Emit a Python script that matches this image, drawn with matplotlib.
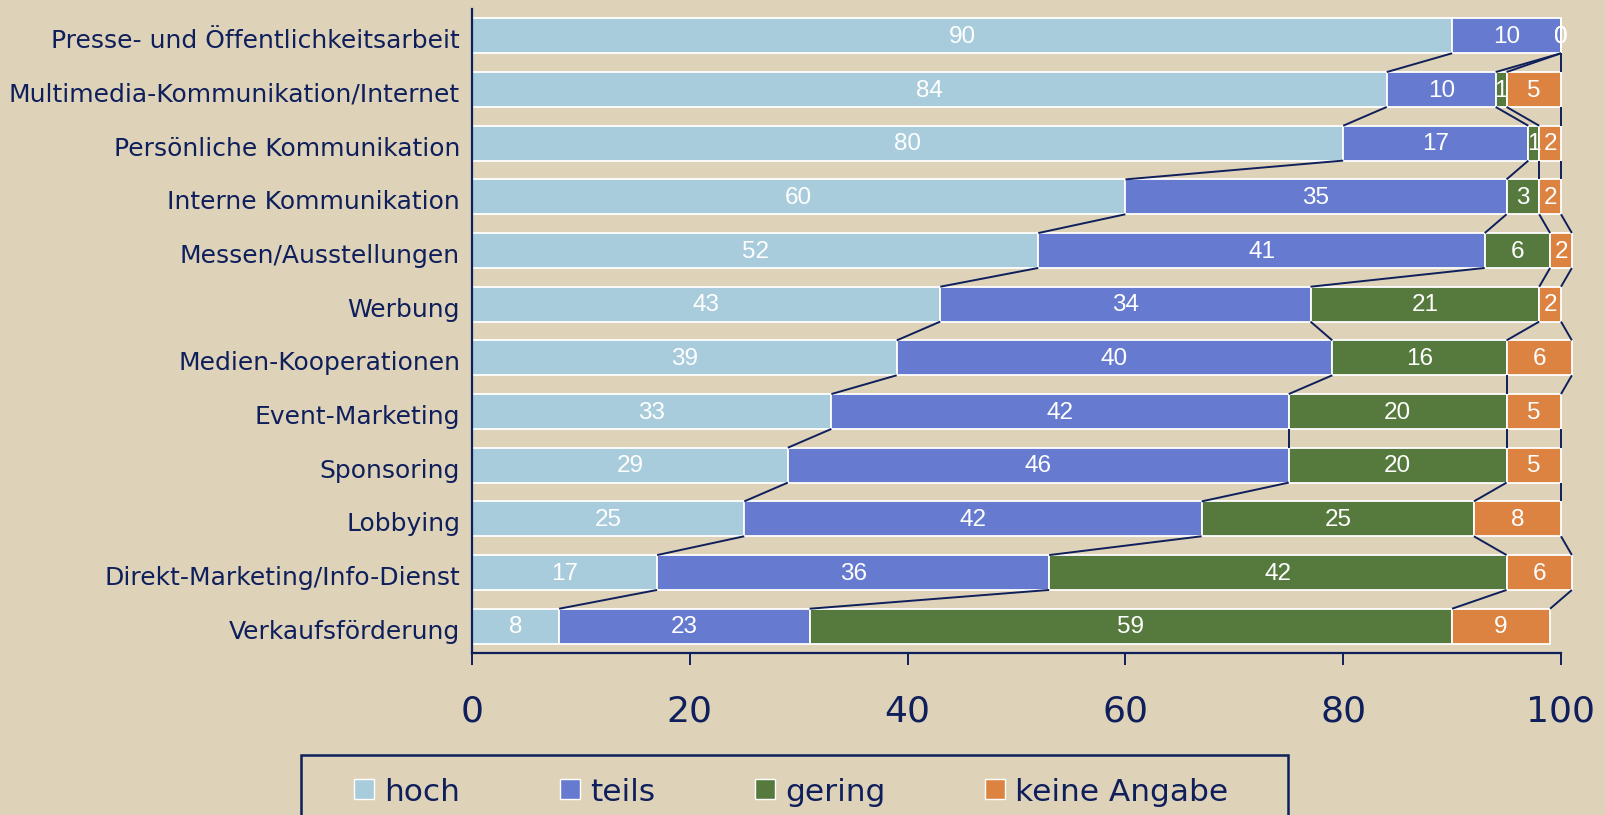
import matplotlib
matplotlib.use("Agg")
import matplotlib.pyplot as plt
import matplotlib.transforms as mtransforms
from matplotlib.patches import Rectangle

# ---------------- data ----------------
categories = [
    "Presse- und Öffentlichkeitsarbeit",
    "Multimedia-Kommunikation/Internet",
    "Persönliche Kommunikation",
    "Interne Kommunikation",
    "Messen/Ausstellungen",
    "Werbung",
    "Medien-Kooperationen",
    "Event-Marketing",
    "Sponsoring",
    "Lobbying",
    "Direkt-Marketing/Info-Dienst",
    "Verkaufsförderung",
]
hoch = [90, 84, 80, 60, 52, 43, 39, 33, 29, 25, 17, 8]
teils = [10, 10, 17, 35, 41, 34, 40, 42, 46, 42, 36, 23]
gering = [0, 1, 1, 3, 6, 21, 16, 20, 20, 25, 42, 59]
keine = [0, 5, 2, 2, 2, 2, 6, 5, 5, 8, 6, 9]
series_names = ["hoch", "teils", "gering", "keine Angabe"]
xticks = [0, 20, 40, 60, 80, 100]

# ---------------- style ----------------
BG = "#DED3B8"
NAVY = "#0F1F5C"
COLORS = ["#A8CCDB", "#667BD0", "#567A3D", "#DD8342"]
W, H = 1606, 815

fig = plt.figure(figsize=(W / 100, H / 100), dpi=100, facecolor=BG)
ax = fig.add_axes([472 / W, (H - 653) / H, (1561 - 472) / W, (653 - 9) / H])
ax.set_facecolor(BG)

series = [hoch, teils, gering, keine]
n = len(categories)
ypos = list(range(n))
bar_h = 0.65

left = [0] * n
cums = []
for vals, col in zip(series, COLORS):
    ax.barh(ypos, vals, left=left, height=bar_h, color=col,
            edgecolor="white", linewidth=1.3, clip_on=False, zorder=2)
    for i, v in enumerate(vals):
        ax.text(left[i] + v / 2, ypos[i] + 0.02, str(v), color="white",
                ha="center", va="center", fontsize=17.5,
                family="Liberation Sans", zorder=4, clip_on=False)
    left = [l + v for l, v in zip(left, vals)]
    cums.append(list(left))

# series lines between consecutive bars
for cum in cums:
    for i in range(n - 1):
        ax.plot([cum[i], cum[i + 1]],
                [ypos[i] + bar_h / 2, ypos[i + 1] - bar_h / 2],
                color=NAVY, lw=1.4, clip_on=False, zorder=3,
                solid_capstyle="butt")

ax.set_xlim(0, 100)
ax.set_ylim(n - 0.5, -0.5)
ax.set_xticks(xticks)
ax.set_xticklabels([str(t) for t in xticks])
ax.set_yticks(ypos)
ax.set_yticklabels(categories)

ax.tick_params(axis="x", direction="out", length=8.6, width=1.4,
               colors=NAVY, labelsize=26, pad=21)
ax.tick_params(axis="y", length=0, pad=8.6, colors=NAVY, labelsize=18)
for lab in ax.get_xticklabels() + ax.get_yticklabels():
    lab.set_family("DejaVu Sans")

shift = mtransforms.ScaledTranslation(0, -3 / 100, fig.dpi_scale_trans)
for lab in ax.get_yticklabels():
    lab.set_transform(lab.get_transform() + shift)

for s in ["top", "right"]:
    ax.spines[s].set_visible(False)
for s in ["left", "bottom"]:
    ax.spines[s].set_color(NAVY)
    ax.spines[s].set_linewidth(1.6)

# ---------------- legend (manual, extends below the figure) ----------------
def fx(x):
    return x / W


def fy(y):
    return 1 - y / H


frame = Rectangle((fx(301), fy(830)), fx(1288) - fx(301), fy(755) - fy(830),
                  transform=fig.transFigure, fill=False, edgecolor=NAVY,
                  linewidth=1.8, clip_on=False)
fig.patches.append(frame)

renderer = fig.canvas.get_renderer()
x = 354
for name, col in zip(series_names, COLORS):
    r = Rectangle((fx(x), fy(799)), fx(x + 20) - fx(x), fy(779) - fy(799),
                  transform=fig.transFigure, facecolor=col,
                  edgecolor="white", linewidth=1.0)
    fig.patches.append(r)
    t = fig.text(fx(x + 30), fy(801), name, color=NAVY, fontsize=22.5,
                 family="DejaVu Sans", ha="left", va="baseline")
    wpx = t.get_window_extent(renderer).width
    x = x + 30 + wpx + 100

fig.savefig("out.png", dpi=100, facecolor=BG)
